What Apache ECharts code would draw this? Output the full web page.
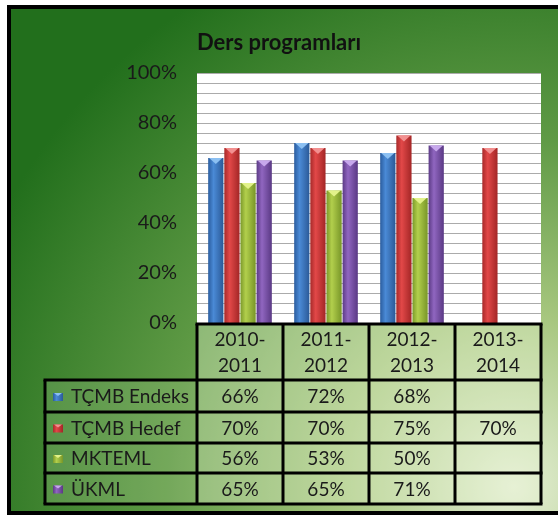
<!DOCTYPE html>
<html><head><meta charset="utf-8">
<script src="https://cdn.jsdelivr.net/npm/echarts@6/dist/echarts.min.js"></script>
<style>html,body{margin:0;padding:0;background:#fff}#c{width:558px;height:515px}</style>
</head><body><div id="c"></div>
<script>
const title = 'Ders programları';
const categories = ['2010-\n2011', '2011-\n2012', '2012-\n2013', '2013-\n2014'];
const seriesNames = ['TÇMB Endeks', 'TÇMB Hedef', 'MKTEML', 'ÜKML'];
const endeks = [66, 72, 68, null];
const hedef = [70, 70, 75, 70];
const mkteml = [56, 53, 50, null];
const ukml = [65, 65, 71, null];
const yTicks = [0, 20, 40, 60, 80, 100];

const seriesData = [endeks, hedef, mkteml, ukml];
const palette = [
  ['#2a5c9e', '#4a8ad6', '#2b5a98'],
  ['#a82a2a', '#e24848', '#a32626'],
  ['#7c9a2a', '#b2cf4c', '#789628'],
  ['#5c3b86', '#9066c0', '#5a3984']
];
const capColors = ['#8cc0f2', '#f29090', '#e2f28a', '#c7a8ec'];
function grad(c) {
  return new echarts.graphic.LinearGradient(0, 0, 1, 0, [
    {offset: 0, color: c[0]}, {offset: 0.35, color: c[1]}, {offset: 1, color: c[2]}
  ]);
}
const FONT = 'Lato, "Open Sans", sans-serif';
const chart = echarts.init(document.getElementById('c'), null, {renderer: 'canvas'});
const plotL = 197, plotR = 541, plotT = 73, plotB = 323;
const CAT_GAP = 0.26, BAR_GAP = 0.06;

const capData = [];
seriesData.forEach((d, s) => d.forEach((v, i) => { if (v != null) capData.push([i, v, s]); }));

const option = {
  animation: false,
  title: {text: title, left: 'center', top: 27, textStyle: {fontFamily: FONT, fontSize: 22, fontWeight: 'bold', color: '#111'}},
  grid: {left: plotL, right: 558 - plotR, top: plotT, bottom: 515 - plotB, show: true, backgroundColor: '#ffffff', borderWidth: 0},
  xAxis: {type: 'category', data: categories, axisLine: {show: false}, axisTick: {show: false}, axisLabel: {show: false}},
  yAxis: {type: 'value', min: 0, max: 100, interval: 20,
    axisLabel: {formatter: v => yTicks.includes(v) ? v + '%' : '', fontFamily: FONT, fontSize: 20, color: '#1a1a1a', margin: 20},
    axisLine: {show: false}, axisTick: {show: false},
    splitLine: {lineStyle: {color: '#ababab', width: 1}},
    minorTick: {show: false, splitNumber: 5},
    minorSplitLine: {show: true, lineStyle: {color: '#ababab', width: 1}}
  },
  series: seriesData.map((d, i) => ({
    name: seriesNames[i], type: 'bar', data: d,
    barGap: (BAR_GAP * 100) + '%', barCategoryGap: (CAT_GAP * 100) + '%',
    itemStyle: {color: grad(palette[i])}
  })).concat([{
    type: 'custom', data: capData, z: 5,
    renderItem: function (params, api) {
      const cat = api.value(0), val = api.value(1), s = api.value(2);
      const band = api.size([1, 0])[0];
      const total = band * (1 - CAT_GAP);
      const n = seriesData.length;
      const bw = total / (n + (n - 1) * BAR_GAP);
      const p = api.coord([cat, val]);
      const x0 = p[0] - total / 2 + s * bw * (1 + BAR_GAP);
      const y = p[1];
      return {type: 'polygon', shape: {points: [[x0 + 1, y], [x0 + bw - 1, y], [x0 + bw / 2, y + 6]]},
        style: {fill: capColors[s]}};
    }
  }])
};
chart.setOption(option);

// Build data table
const colW = (plotR - plotL) / categories.length;
const cx = categories.map((c, i) => chart.convertToPixel({xAxisIndex: 0}, i));
const rowTops = [380, 412, 443, 473];
const rowBot = 504;
const headTop = 324;
const labL = 45;
const g = [];
// background
g.push({type: 'rect', z: -100, shape: {x: 9, y: 7, width: 549, height: 505},
  style: {fill: new echarts.graphic.RadialGradient(0.92, 0.95, 1.15, [
    {offset: 0, color: '#e4eed4'}, {offset: 0.3, color: '#a6c67e'}, {offset: 0.6, color: '#5f9a45'}, {offset: 1, color: '#226f1c'}
  ])}});
// frame (top, left, bottom)
const frame = {stroke: '#000', lineWidth: 4};
g.push({type: 'line', z: 50, shape: {x1: 7, y1: 7, x2: 558, y2: 7}, style: frame});
g.push({type: 'line', z: 50, shape: {x1: 9, y1: 5, x2: 9, y2: 515}, style: frame});
g.push({type: 'line', z: 50, shape: {x1: 7, y1: 513, x2: 558, y2: 513}, style: frame});
// cells fill
g.push({type: 'rect', z: 5, shape: {x: plotL, y: headTop, width: plotR - plotL, height: rowBot - headTop}, style: {fill: 'rgba(235,245,215,0.35)'}});
g.push({type: 'rect', z: 5, shape: {x: labL, y: rowTops[0], width: plotL - labL, height: rowBot - rowTops[0]}, style: {fill: 'rgba(235,245,215,0.15)'}});
const lineStyle = {stroke: '#000', lineWidth: 3};
for (let k = 0; k <= categories.length; k++) {
  const x = plotL + k * colW;
  g.push({type: 'line', z: 10, shape: {x1: x, y1: headTop, x2: x, y2: rowBot}, style: lineStyle});
}
g.push({type: 'line', z: 10, shape: {x1: labL, y1: rowTops[0], x2: labL, y2: rowBot}, style: lineStyle});
g.push({type: 'line', z: 10, shape: {x1: plotL - 1.5, y1: headTop, x2: plotR + 1.5, y2: headTop}, style: lineStyle});
rowTops.concat([rowBot]).forEach(y => {
  g.push({type: 'line', z: 10, shape: {x1: labL - 1.5, y1: y, x2: plotR + 1.5, y2: y}, style: lineStyle});
});
categories.forEach((c, i) => {
  g.push({type: 'text', z: 11, x: cx[i], y: (headTop + rowTops[0]) / 2 + 1,
    style: {text: c, fontFamily: FONT, fontSize: 19, fill: '#1a1a1a', align: 'center', verticalAlign: 'middle', lineHeight: 26}});
});
seriesNames.forEach((n, r) => {
  const yc = (rowTops[r] + (r < 3 ? rowTops[r + 1] : rowBot)) / 2 + 1;
  g.push({type: 'rect', z: 11, shape: {x: 53, y: yc - 4, width: 10, height: 8}, style: {fill: grad(palette[r])}});
  g.push({type: 'polygon', z: 12, shape: {points: [[54, yc - 4], [62, yc - 4], [58, yc - 1]]}, style: {fill: capColors[r]}});
  g.push({type: 'text', z: 11, x: 71, y: yc, style: {text: n, fontFamily: FONT, fontSize: 19, fill: '#1a1a1a', align: 'left', verticalAlign: 'middle'}});
  seriesData[r].forEach((v, i) => {
    if (v == null) return;
    g.push({type: 'text', z: 11, x: cx[i], y: yc, style: {text: v + '%', fontFamily: FONT, fontSize: 19, fill: '#1a1a1a', align: 'center', verticalAlign: 'middle'}});
  });
});
chart.setOption({graphic: g});
</script></body></html>
